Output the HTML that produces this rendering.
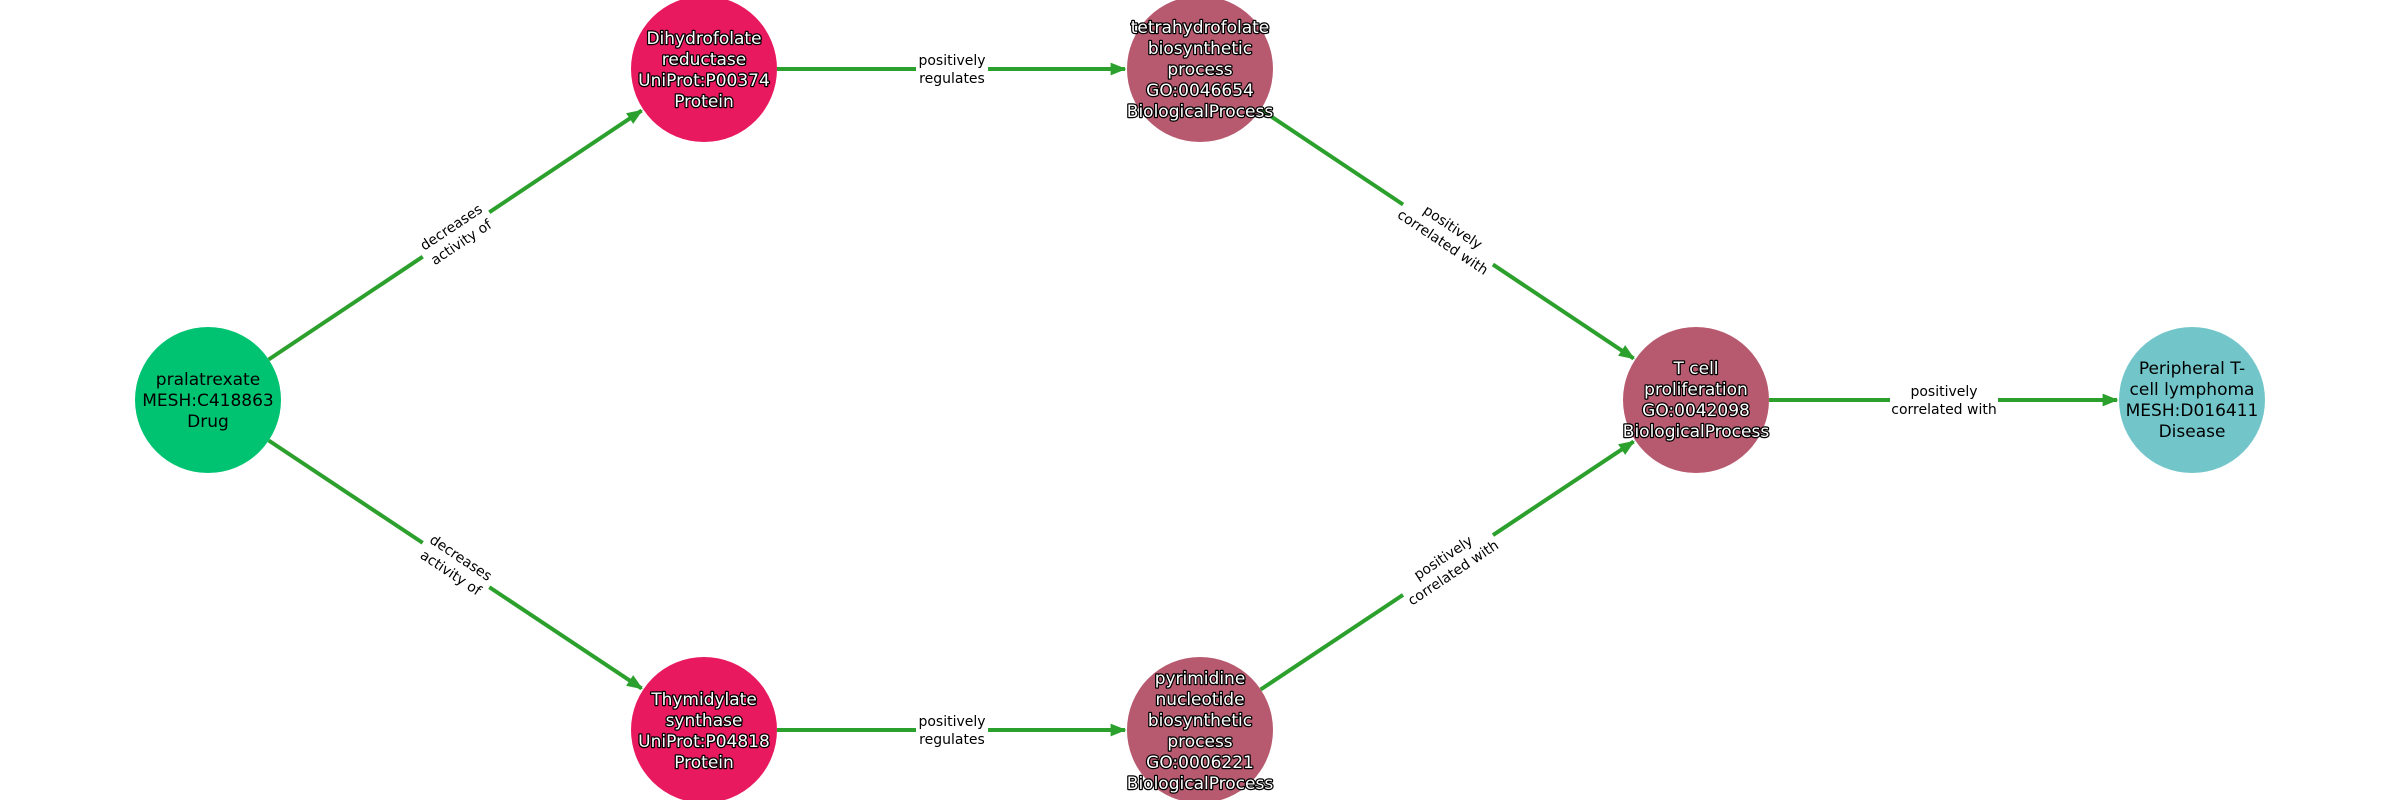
<!DOCTYPE html>
<html><head><meta charset="utf-8"><style>
html,body{margin:0;padding:0;background:#fff;}
svg{display:block;font-family:"DejaVu Sans","Liberation Sans",sans-serif;}
.n{font-size:17px;text-anchor:middle;}
.w{fill:#fff;stroke:#000;stroke-width:2.5px;paint-order:stroke;stroke-linejoin:round;}
.e{font-size:14px;text-anchor:middle;fill:#000;}
</style></head><body>
<svg width="2400" height="800" viewBox="0 0 2400 800">
<defs><marker id="a" viewBox="0 0 10 10" refX="9" refY="5" markerWidth="4" markerHeight="4" orient="auto" markerUnits="strokeWidth"><path d="M0,1 L10,5 L0,9 z" fill="#2ca02c"/></marker></defs>
<g stroke="#2ca02c" stroke-width="4" fill="none" marker-end="url(#a)">
<line x1="268.7" y1="359.5" x2="641.6" y2="110.6"/>
<line x1="268.7" y1="440.5" x2="641.6" y2="688.4"/>
<line x1="777" y1="69" x2="1125" y2="69"/>
<line x1="777" y1="730" x2="1125" y2="730"/>
<line x1="1260.7" y1="109.5" x2="1633.6" y2="358.4"/>
<line x1="1260.7" y1="689.5" x2="1633.6" y2="441.6"/>
<line x1="1769" y1="400" x2="2117" y2="400"/>
</g>
<g>
<g transform="translate(456,234.5) rotate(-33.7)"><rect x="-40" y="-22" width="80" height="44" fill="#fff"/><text class="e" y="-4">decreases</text><text class="e" y="14">activity of</text></g>
<g transform="translate(456,565) rotate(33.7)"><rect x="-40" y="-22" width="80" height="44" fill="#fff"/><text class="e" y="-4">decreases</text><text class="e" y="14">activity of</text></g>
<g transform="translate(952,69)"><rect x="-36" y="-22" width="72" height="44" fill="#fff"/><text class="e" y="-4">positively</text><text class="e" y="14">regulates</text></g>
<g transform="translate(952,730)"><rect x="-36" y="-22" width="72" height="44" fill="#fff"/><text class="e" y="-4">positively</text><text class="e" y="14">regulates</text></g>
<g transform="translate(1448,234.5) rotate(33.7)"><rect x="-54" y="-22" width="108" height="44" fill="#fff"/><text class="e" y="-4">positively</text><text class="e" y="14">correlated with</text></g>
<g transform="translate(1448,565) rotate(-33.7)"><rect x="-54" y="-22" width="108" height="44" fill="#fff"/><text class="e" y="-4">positively</text><text class="e" y="14">correlated with</text></g>
<g transform="translate(1944,400)"><rect x="-54" y="-22" width="108" height="44" fill="#fff"/><text class="e" y="-4">positively</text><text class="e" y="14">correlated with</text></g>
</g>
<circle cx="208" cy="400" r="73" fill="#00c371"/>
<circle cx="704" cy="69" r="73" fill="#e8195f"/>
<circle cx="704" cy="730" r="73" fill="#e8195f"/>
<circle cx="1200" cy="69" r="73" fill="#b75a6f"/>
<circle cx="1200" cy="730" r="73" fill="#b75a6f"/>
<circle cx="1696" cy="400" r="73" fill="#b75a6f"/>
<circle cx="2192" cy="400" r="73" fill="#72c6ca"/>
<g class="n">
<text x="208" y="385">pralatrexate</text><text x="208" y="406">MESH:C418863</text><text x="208" y="427">Drug</text>
<g class="w"><text x="704" y="44">Dihydrofolate</text><text x="704" y="65">reductase</text><text x="704" y="86">UniProt:P00374</text><text x="704" y="107">Protein</text></g>
<g class="w"><text x="704" y="705">Thymidylate</text><text x="704" y="726">synthase</text><text x="704" y="747">UniProt:P04818</text><text x="704" y="768">Protein</text></g>
<g class="w"><text x="1200" y="33">tetrahydrofolate</text><text x="1200" y="54">biosynthetic</text><text x="1200" y="75">process</text><text x="1200" y="96">GO:0046654</text><text x="1200" y="117">BiologicalProcess</text></g>
<g class="w"><text x="1200" y="684">pyrimidine</text><text x="1200" y="705">nucleotide</text><text x="1200" y="726">biosynthetic</text><text x="1200" y="747">process</text><text x="1200" y="768">GO:0006221</text><text x="1200" y="789">BiologicalProcess</text></g>
<g class="w"><text x="1696" y="374">T cell</text><text x="1696" y="395">proliferation</text><text x="1696" y="416">GO:0042098</text><text x="1696" y="437">BiologicalProcess</text></g>
<text x="2192" y="374">Peripheral T-</text><text x="2192" y="395">cell lymphoma</text><text x="2192" y="416">MESH:D016411</text><text x="2192" y="437">Disease</text>
</g>
</svg>
</body></html>
